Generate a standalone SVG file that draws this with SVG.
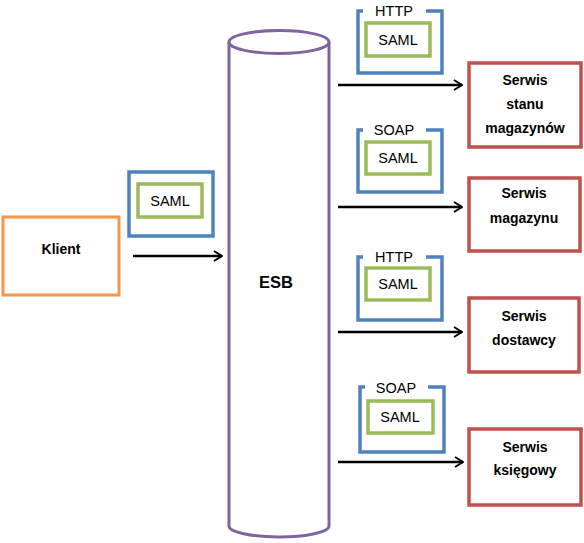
<svg xmlns="http://www.w3.org/2000/svg" width="584" height="543" viewBox="0 0 584 543">
<defs>
<style>
.lbl{font-family:"Liberation Sans",Arial,sans-serif;font-size:14.5px;fill:#000;text-anchor:middle}
.b{font-family:"Liberation Sans",Arial,sans-serif;font-size:14px;font-weight:bold;fill:#000;text-anchor:middle}
.blue{fill:none;stroke:#4F81BD;stroke-width:3.5}
.green{fill:none;stroke:#9BBB59;stroke-width:3.5}
.red{fill:#fff;stroke:#C0504D;stroke-width:3.5}
.orange{fill:#fff;stroke:#F79646;stroke-width:3}
.cyl{fill:#fff;stroke:#8064A2;stroke-width:3}
.conn{fill:none;stroke:#000;stroke-width:2.5}
</style>
<marker id="arr" viewBox="0 0 10 12" refX="9" refY="6" markerWidth="10" markerHeight="12" markerUnits="userSpaceOnUse" orient="auto">
<path d="M1,1 L9,6 L1,11" fill="none" stroke="#000" stroke-width="2"/>
</marker>
</defs>
<rect width="584" height="543" fill="#fff"/>

<g id="esb">
<path class="cyl" d="M229,42 L229,526 A50,11 0 0 0 329,526 L329,42"/>
<ellipse class="cyl" cx="279" cy="42" rx="50" ry="11.5"/>
<text class="b" x="276" y="288" style="font-size:16.5px">ESB</text>
</g>

<g id="klient">
<rect class="orange" x="3" y="217" width="116" height="78"/>
<text class="b" x="61" y="254">Klient</text>
</g>

<g id="msg-klient">
<rect class="blue" x="129" y="172" width="84" height="64"/>
<rect class="green" x="138" y="184" width="64" height="33"/>
<text class="lbl" x="170" y="206">SAML</text>
</g>

<g id="msg-1">
<path class="blue" d="M363,11 H358 V73 H442 V11 H426"/>
<text class="lbl" x="394" y="16">HTTP</text>
<rect class="green" x="366" y="23" width="64" height="33"/>
<text class="lbl" x="398" y="45">SAML</text>
</g>

<g id="msg-2">
<path class="blue" d="M363,130 H358 V192 H442 V130 H426"/>
<text class="lbl" x="394" y="135">SOAP</text>
<rect class="green" x="366" y="142" width="64" height="32"/>
<text class="lbl" x="398" y="163">SAML</text>
</g>

<g id="msg-3">
<path class="blue" d="M363,257 H358 V320 H442 V257 H426"/>
<text class="lbl" x="394" y="262">HTTP</text>
<rect class="green" x="366" y="268" width="64" height="32"/>
<text class="lbl" x="398" y="289">SAML</text>
</g>

<g id="msg-4">
<path class="blue" d="M365,387 H360 V452 H444 V387 H428"/>
<text class="lbl" x="396" y="393">SOAP</text>
<rect class="green" x="368" y="401" width="65" height="32"/>
<text class="lbl" x="400" y="422">SAML</text>
</g>

<g id="serwis-stanu">
<rect class="red" x="469" y="63" width="112" height="84"/>
<text class="b" x="525" y="85">Serwis</text>
<text class="b" x="525" y="109">stanu</text>
<text class="b" x="525" y="133">magazynów</text>
</g>

<g id="serwis-magazynu">
<rect class="red" x="469" y="178" width="111" height="73"/>
<text class="b" x="524" y="198">Serwis</text>
<text class="b" x="524" y="223">magazynu</text>
</g>

<g id="serwis-dostawcy">
<rect class="red" x="469" y="298" width="110" height="74"/>
<text class="b" x="524" y="321">Serwis</text>
<text class="b" x="524" y="345">dostawcy</text>
</g>

<g id="serwis-ksiegowy">
<rect class="red" x="469" y="429" width="112" height="76"/>
<text class="b" x="525" y="452">Serwis</text>
<text class="b" x="525" y="475">księgowy</text>
</g>

<g id="connectors">
<line class="conn" x1="133" y1="256" x2="222" y2="256" marker-end="url(#arr)"/>
<line class="conn" x1="338" y1="85" x2="462" y2="85" marker-end="url(#arr)"/>
<line class="conn" x1="338" y1="207" x2="462" y2="207" marker-end="url(#arr)"/>
<line class="conn" x1="338" y1="332" x2="462" y2="332" marker-end="url(#arr)"/>
<line class="conn" x1="338" y1="462" x2="463" y2="462" marker-end="url(#arr)"/>
</g>
</svg>
